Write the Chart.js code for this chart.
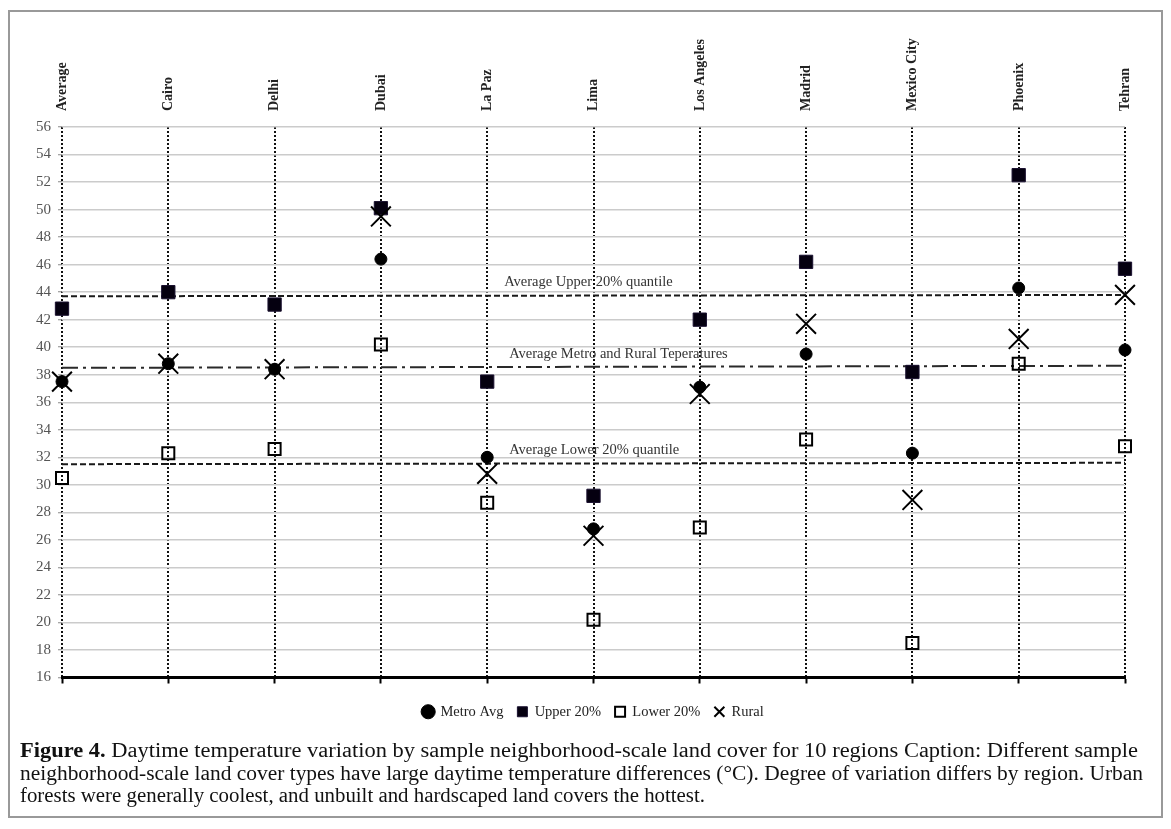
<!DOCTYPE html>
<html>
<head>
<meta charset="utf-8">
<script src="https://cdn.jsdelivr.net/npm/chart.js@4.4.0/dist/chart.umd.min.js"></script>
<style>
html,body{margin:0;padding:0;background:#fff;}
body{width:1171px;height:829px;position:relative;overflow:hidden;font-family:"Liberation Serif",serif;}
#frame{position:absolute;left:8px;top:10px;width:1155px;height:808px;border:2px solid #999;box-sizing:border-box;}
#wrap{position:absolute;left:0;top:0;width:1171px;height:740px;}
#caption{position:absolute;left:20px;top:739px;font-family:"Liberation Serif",serif;font-size:20px;line-height:22.5px;color:#111;}
.ln{display:block;white-space:nowrap;transform-origin:0 50%;width:max-content;}
</style>
</head>
<body>
<div id="frame"></div>
<div id="wrap"><canvas id="c"></canvas></div>
<div id="caption">
  <span class="ln" data-w="1118"><b>Figure 4.</b> Daytime temperature variation by sample neighborhood-scale land cover for 10 regions Caption: Different sample</span>
  <span class="ln" data-w="1123">neighborhood-scale land cover types have large daytime temperature differences (°C). Degree of variation differs by region. Urban</span>
  <span class="ln" data-w="685">forests were generally coolest, and unbuilt and hardscaped land covers the hottest.</span>
</div>
<script>
// ---- data ----
const categories = ['Average','Cairo','Delhi','Dubai','La Paz','Lima','Los Angeles','Madrid','Mexico City','Phoenix','Tehran'];
const metroAvg = [37.5, 38.8, 38.4, 46.4, 32.0, 26.8, 37.1, 39.5, 32.3, 44.3, 39.8];
const upper20  = [42.8, 44.0, 43.1, 50.1, 37.5, 29.2, 42.0, 46.2, 38.2, 52.5, 45.7];
const lower20  = [30.5, 32.3, 32.6, 40.2, 28.7, 20.2, 26.9, 33.3, 18.5, 38.8, 32.8];
const rural    = [37.5, 38.8, 38.4, 49.5, 30.8, 26.3, 36.6, 41.7, 28.9, 40.6, 43.8];
// reference lines: value at first category, value at last category
const avgUpperLine = [43.7, 43.8];
const avgMetroRuralLine = [38.5, 38.65];
const avgLowerLine = [31.5, 31.6];
const refLabels = ['Average Upper 20% quantile', 'Average Metro and Rural Teperatures', 'Average Lower 20% quantile'];
const yMin = 16, yMax = 56, yStep = 2;

const first = categories[0], last = categories[categories.length - 1];
const lineData = v => [{x: first, y: v[0]}, {x: last, y: v[1]}];

const serif = '"Liberation Serif", serif';

const refTextPlugin = {
  id: 'refText',
  afterDatasetsDraw(chart) {
    const {ctx, scales} = chart;
    const x = scales.x, y = scales.y;
    const lines = [avgUpperLine, avgMetroRuralLine, avgLowerLine];
    const dxs = [17, 22, 22];
    ctx.save();
    ctx.font = '14.5px ' + serif;
    ctx.fillStyle = '#333';
    ctx.textAlign = 'left';
    ctx.textBaseline = 'middle';
    lines.forEach((l, i) => {
      const v = l[0] + (l[1] - l[0]) * 0.45;
      ctx.fillText(refLabels[i], x.getPixelForValue(4) + dxs[i], y.getPixelForValue(v) - 13);
    });
    ctx.restore();
  }
};

// centre the legend under the plot area rather than under the whole canvas
const legendShift = {
  id: 'legendShift',
  afterLayout(chart) {
    const lg = chart.legend;
    if (!lg) return;
    const d = (chart.chartArea.left + chart.chartArea.right) / 2 - (lg.left + lg.right) / 2;
    lg.left += d; lg.right += d;
    if (lg.legendHitBoxes) lg.legendHitBoxes.forEach(h => { h.left += d; });
  }
};

new Chart(document.getElementById('c'), {
  type: 'line',
  data: {
    labels: categories,
    datasets: [
      {label: 'Metro Avg', data: metroAvg, showLine: false, pointStyle: 'circle', pointRadius: 6, pointHoverRadius: 6,
       backgroundColor: '#000', borderColor: '#000', pointBorderWidth: 1, order: 1},
      {label: 'Upper 20%', data: upper20, showLine: false, pointStyle: 'rect', pointRadius: 9.4, pointHoverRadius: 9.4,
       backgroundColor: '#050010', borderColor: '#1a1030', pointBorderWidth: 1, order: 3},
      {label: 'Lower 20%', data: lower20, showLine: false, pointStyle: 'rect', pointRadius: 8.5, pointHoverRadius: 8.5,
       backgroundColor: 'rgba(255,255,255,0)', borderColor: '#000', pointBorderWidth: 2, order: 4},
      {label: 'Rural', data: rural, showLine: false, pointStyle: 'crossRot', pointRadius: 14, pointHoverRadius: 14,
       backgroundColor: '#000', borderColor: '#000', pointBorderWidth: 2, order: 2},
      {label: 'avgUpper', data: lineData(avgUpperLine), borderColor: '#1a1a1a', borderWidth: 2, borderDash: [6, 3],
       pointRadius: 0, fill: false, order: 5},
      {label: 'avgMetroRural', data: lineData(avgMetroRuralLine), borderColor: '#2a2a2a', borderWidth: 2, borderDash: [16, 5, 3, 5],
       pointRadius: 0, fill: false, order: 5},
      {label: 'avgLower', data: lineData(avgLowerLine), borderColor: '#1a1a1a', borderWidth: 2, borderDash: [6, 3],
       pointRadius: 0, fill: false, order: 5}
    ]
  },
  options: {
    responsive: true,
    maintainAspectRatio: false,
    animation: false,
    events: [],
    layout: {padding: {left: 8, right: 46, top: 10, bottom: 11}},
    plugins: {
      tooltip: {enabled: false},
      legend: {
        position: 'bottom',
        labels: {
          filter: item => item.datasetIndex < 4,
          sort: (a, b) => a.datasetIndex - b.datasetIndex,
          usePointStyle: true,
          boxWidth: 10, boxHeight: 10,
          padding: 14,
          color: '#222',
          font: {family: serif, size: 14.5}
        }
      }
    },
    scales: {
      x: {
        type: 'category',
        position: 'top',
        offset: false,
        grid: {offset: false, color: '#111', lineWidth: 2, drawTicks: false},
        border: {display: false, dash: [2, 2]},
        ticks: {autoSkip: false, minRotation: 90, maxRotation: 90, padding: 16, labelOffset: 17, color: '#222',
                font: {family: serif, size: 14, weight: 'bold'}},
        afterFit: s => { s.height = 117; }
      },
      x2: {
        type: 'category',
        position: 'bottom',
        labels: categories,
        offset: false,
        grid: {offset: false, drawOnChartArea: false, drawTicks: true, tickLength: 6, tickColor: '#000', tickWidth: 2},
        border: {display: true, color: '#000', width: 3},
        ticks: {display: false},
        afterFit: s => { s.height = 13; }
      },
      y: {
        min: yMin, max: yMax,
        grid: {color: '#cbcbcb', lineWidth: 1.5, drawTicks: true, tickLength: 4, tickColor: '#888', tickWidth: 1},
        border: {display: false},
        ticks: {stepSize: yStep, padding: 7, color: '#555', font: {family: serif, size: 15}},
        afterFit: s => { s.width = 54; }
      }
    }
  },
  plugins: [refTextPlugin, legendShift]
});

// stretch caption lines to the reference line widths
document.querySelectorAll('#caption .ln').forEach(el => {
  const w = el.getBoundingClientRect().width;
  const target = parseFloat(el.dataset.w);
  el.style.transform = 'scaleX(' + (target / w) + ')';
});
</script>
</body>
</html>
